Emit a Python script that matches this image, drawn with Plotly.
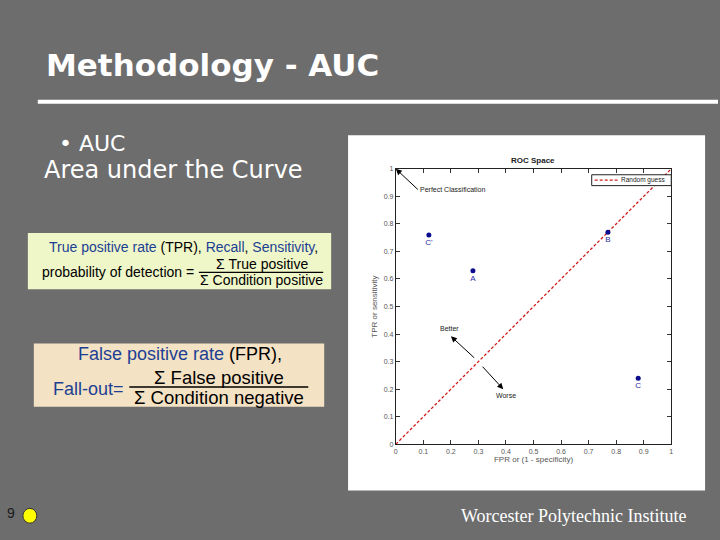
import plotly.graph_objects as go

# ---- data ----
point_labels = ["C'", "A", "B", "C"]
fpr_values = [0.12, 0.28, 0.77, 0.88]
tpr_values = [0.76, 0.63, 0.77, 0.24]
guess_x = [0, 1]
guess_y = [0, 1]
tick_vals = [0, 0.1, 0.2, 0.3, 0.4, 0.5, 0.6, 0.7, 0.8, 0.9, 1]
tick_text = ["0", "0.1", "0.2", "0.3", "0.4", "0.5", "0.6", "0.7", "0.8", "0.9", "1"]

W, H = 720, 540
def px(x):
    return x / W
def py(y):
    return 1 - y / H

BG = "#6d6d6d"
BLUE = "#1c3f94"
RED = "#d01c1c"

fig = go.Figure()

fig.add_trace(go.Scatter(
    x=guess_x, y=guess_y, mode="lines", name="Random guess",
    line=dict(color=RED, width=1.3, dash="3px,2px"),
    showlegend=False, hoverinfo="skip"))

fig.add_trace(go.Scatter(
    x=fpr_values, y=tpr_values, mode="markers+text", text=point_labels,
    textposition="bottom center",
    textfont=dict(family="Liberation Sans", size=8, color="#2a2aa8"),
    marker=dict(color="#0b0b8f", size=5), showlegend=False))

axis_common = dict(
    range=[0, 1], tickvals=tick_vals, ticktext=tick_text,
    showline=True, mirror="ticks", linecolor="#222", linewidth=1,
    ticks="inside", ticklen=4, tickcolor="#333", showgrid=False, zeroline=False,
    tickfont=dict(family="Liberation Sans", size=7, color="#555"),
)

fig.update_layout(
    width=W, height=H, autosize=False,
    margin=dict(l=0, r=0, t=0, b=0),
    paper_bgcolor=BG, plot_bgcolor="white",
    xaxis=dict(domain=[px(396), px(673)],
               title=dict(text="FPR or (1 - specificity)", standoff=2,
                          font=dict(family="Liberation Sans", size=8, color="#555")),
               **axis_common),
    yaxis=dict(domain=[py(446), py(167)],
               title=dict(text="TPR or sensitivity", standoff=4,
                          font=dict(family="Liberation Sans", size=8, color="#555")),
               **axis_common),
    showlegend=False,
)

shapes = []
# white chart image backdrop
shapes.append(dict(type="rect", xref="paper", yref="paper", layer="below",
                   x0=px(348), x1=px(707), y0=py(493), y1=py(133),
                   fillcolor="white", line=dict(width=0)))
# title underline
shapes.append(dict(type="line", xref="paper", yref="paper",
                   x0=px(36), x1=px(720), y0=py(99), y1=py(99),
                   line=dict(color="white", width=4)))
# TPR box
shapes.append(dict(type="rect", xref="paper", yref="paper",
                   x0=px(26), x1=px(331), y0=py(289), y1=py(232),
                   fillcolor="#eff6c8", line=dict(width=0)))
shapes.append(dict(type="line", xref="paper", yref="paper",
                   x0=px(198), x1=px(323), y0=py(272), y1=py(272),
                   line=dict(color="black", width=1.2)))
# FPR box
shapes.append(dict(type="rect", xref="paper", yref="paper",
                   x0=px(32), x1=px(324), y0=py(408), y1=py(344),
                   fillcolor="#f4e2c4", line=dict(width=0)))
shapes.append(dict(type="line", xref="paper", yref="paper",
                   x0=px(128), x1=px(308), y0=py(388), y1=py(388),
                   line=dict(color="black", width=1.5)))
# yellow circle at the slide number
shapes.append(dict(type="circle", xref="paper", yref="paper",
                   x0=px(21), x1=px(35), y0=py(526), y1=py(511),
                   fillcolor="#ffff00", line=dict(color="#333", width=1)))
# legend box for "Random guess"
shapes.append(dict(type="rect", xref="paper", yref="paper",
                   x0=px(593), x1=px(673), y0=py(184), y1=py(173),
                   fillcolor="white", line=dict(color="#222", width=1)))
shapes.append(dict(type="line", xref="paper", yref="paper",
                   x0=px(596), x1=px(619), y0=py(178.5), y1=py(178.5),
                   line=dict(color=RED, width=1.2, dash="3px,2px")))
fig.update_layout(shapes=shapes)

ann = []
def text(x, y, s, size, color="white", family="Liberation Sans", xanchor="left"):
    ann.append(dict(xref="paper", yref="paper", x=px(x), y=py(y), text=s,
                    showarrow=False, xanchor=xanchor, yanchor="middle",
                    font=dict(family=family, size=size, color=color)))

text(42, 62, "<b>Methodology - AUC</b>", 31, family="DejaVu Sans")
text(55, 141, "• AUC", 22, family="DejaVu Sans")
text(40, 168, "Area under the Curve", 24, family="DejaVu Sans")

b = lambda s: f'<span style="color:{BLUE}">{s}</span>'
text(183, 246, f"{b('True positive rate')} (TPR), {b('Recall')}, {b('Sensitivity')},",
     14, color="black", xanchor="center")
text(195, 272, "probability of detection =", 14, color="black", xanchor="right")
text(261, 263, "Σ True positive", 14, color="black", xanchor="center")
text(261, 280, "Σ Condition positive", 14, color="black", xanchor="center")

text(179, 355, f"{b('False positive rate')} (FPR),", 18, color="black", xanchor="center")
text(125, 390, "Fall-out=", 18, color=BLUE, xanchor="right")
text(218, 378, "Σ False positive", 18.5, color="black", xanchor="center")
text(218, 399, "Σ Condition negative", 18.5, color="black", xanchor="center")

text(3, 516, "9", 14, color="#1a1a1a")
text(690, 519, "Worcester Polytechnic Institute", 18, family="Liberation Serif",
     xanchor="right")

# chart title and legend label
text(534, 159, "<b>ROC Space</b>", 8, color="#222", xanchor="center")
text(620, 178.5, "Random guess", 6.5, color="#222")

# arrows in data coordinates
ann.append(dict(xref="x", yref="y", axref="x", ayref="y", x=0.0, y=1.0,
                ax=0.08, ay=0.925, text="Perfect Classification", xanchor="left",
                yanchor="middle", showarrow=True, arrowhead=2, arrowsize=1.2,
                arrowwidth=1, arrowcolor="black",
                font=dict(family="Liberation Sans", size=7, color="#222")))
ann.append(dict(xref="x", yref="y", axref="x", ayref="y", x=0.2, y=0.392,
                ax=0.29, ay=0.309, text="", showarrow=True, arrowhead=2,
                arrowsize=1.2, arrowwidth=1, arrowcolor="black"))
ann.append(dict(xref="x", yref="y", axref="x", ayref="y", x=0.39, y=0.2,
                ax=0.31, ay=0.287, text="", showarrow=True, arrowhead=2,
                arrowsize=1.2, arrowwidth=1, arrowcolor="black"))
ann.append(dict(xref="x", yref="y", x=0.194, y=0.42, text="Better", showarrow=False,
                font=dict(family="Liberation Sans", size=7, color="#222")))
ann.append(dict(xref="x", yref="y", x=0.40, y=0.178, text="Worse", showarrow=False,
                font=dict(family="Liberation Sans", size=7, color="#222")))

fig.update_layout(annotations=ann)

fig.write_html(
    "out.html",
    config={"displayModeBar": False},
    post_script="document.body.style.margin='0';document.body.style.background='#6d6d6d';",
)
